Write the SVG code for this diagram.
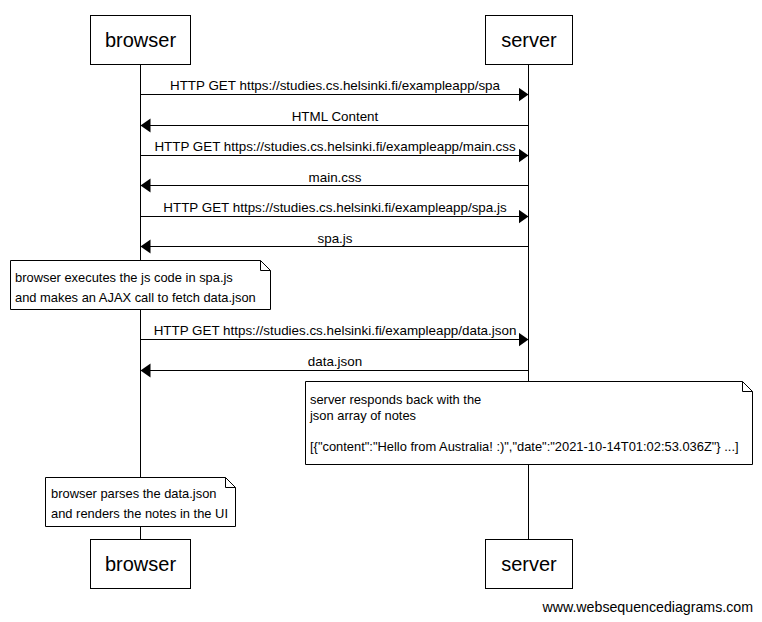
<svg xmlns="http://www.w3.org/2000/svg" width="762" height="622" viewBox="0 0 762 622">
<style>
text{font-family:"Liberation Sans",Arial,sans-serif;fill:#000}
.actor rect{fill:#fff;stroke:#000;stroke-width:1}
.actor text{font-size:20px;text-anchor:middle}
.life{stroke:#000;stroke-width:1}
.msg line{stroke:#000;stroke-width:1}
.msg text{font-size:13.4px;text-anchor:middle}
.note path{fill:#fff;stroke:#000;stroke-width:1}
.note text{font-size:12.9px}
</style>
<defs>
<marker id="ah" markerWidth="12" markerHeight="16" refX="10" refY="7" orient="auto" markerUnits="userSpaceOnUse">
<path d="M0,0 L10,7 L0,14 Z" fill="#000"/>
</marker>
</defs>
<g id="lifelines">
<line class="life" x1="140.5" y1="65" x2="140.5" y2="539"/>
<line class="life" x1="528.5" y1="65" x2="528.5" y2="539"/>
</g>
<g id="browser-top" class="actor"><rect x="90.5" y="15.5" width="100" height="49"/><text x="140.5" y="47">browser</text></g>
<g id="server-top" class="actor"><rect x="485.5" y="15.5" width="87" height="49"/><text x="529" y="47">server</text></g>
<g id="browser-bottom" class="actor"><rect x="90.5" y="539.5" width="100" height="49"/><text x="140.5" y="571">browser</text></g>
<g id="server-bottom" class="actor"><rect x="485.5" y="539.5" width="87" height="49"/><text x="529" y="571">server</text></g>
<g id="connectors" class="msg">
<line x1="140.5" y1="94.5" x2="528.5" y2="94.5" marker-end="url(#ah)"/>
<text x="335" y="90">HTTP GET https://studies.cs.helsinki.fi/exampleapp/spa</text>
<line x1="528.5" y1="125.5" x2="140.5" y2="125.5" marker-end="url(#ah)"/>
<text x="335" y="121">HTML Content</text>
<line x1="140.5" y1="155.5" x2="528.5" y2="155.5" marker-end="url(#ah)"/>
<text x="335" y="151">HTTP GET https://studies.cs.helsinki.fi/exampleapp/main.css</text>
<line x1="528.5" y1="185.5" x2="140.5" y2="185.5" marker-end="url(#ah)"/>
<text x="335" y="182">main.css</text>
<line x1="140.5" y1="216.5" x2="528.5" y2="216.5" marker-end="url(#ah)"/>
<text x="335" y="212">HTTP GET https://studies.cs.helsinki.fi/exampleapp/spa.js</text>
<line x1="528.5" y1="246.5" x2="140.5" y2="246.5" marker-end="url(#ah)"/>
<text x="335" y="243">spa.js</text>
<line x1="140.5" y1="339.5" x2="528.5" y2="339.5" marker-end="url(#ah)"/>
<text x="335" y="335">HTTP GET https://studies.cs.helsinki.fi/exampleapp/data.json</text>
<line x1="528.5" y1="370.5" x2="140.5" y2="370.5" marker-end="url(#ah)"/>
<text x="335" y="366">data.json</text>
</g>
<g id="note1" class="note">
<path d="M10.5,260.5 H260.5 L270.5,270.5 V309.5 H10.5 Z M260.5,260.5 V270.5 H270.5"/>
<text x="15" y="282">browser executes the js code in spa.js</text>
<text x="15" y="302">and makes an AJAX call to fetch data.json</text>
</g>
<g id="note2" class="note">
<path d="M305.5,381.5 H742.5 L752.5,391.5 V464.5 H305.5 Z M742.5,381.5 V391.5 H752.5"/>
<text x="310" y="404">server responds back with the</text>
<text x="310" y="420">json array of notes</text>
<text x="310" y="451">[{"content":"Hello from Australia! :)","date":"2021-10-14T01:02:53.036Z"} ...]</text>
</g>
<g id="note3" class="note">
<path d="M45.5,477.5 H225.5 L235.5,487.5 V526.5 H45.5 Z M225.5,477.5 V487.5 H235.5"/>
<text x="51" y="498">browser parses the data.json</text>
<text x="51" y="518">and renders the notes in the UI</text>
</g>
<text x="753" y="612" style="font-size:14.2px;text-anchor:end">www.websequencediagrams.com</text>
</svg>
